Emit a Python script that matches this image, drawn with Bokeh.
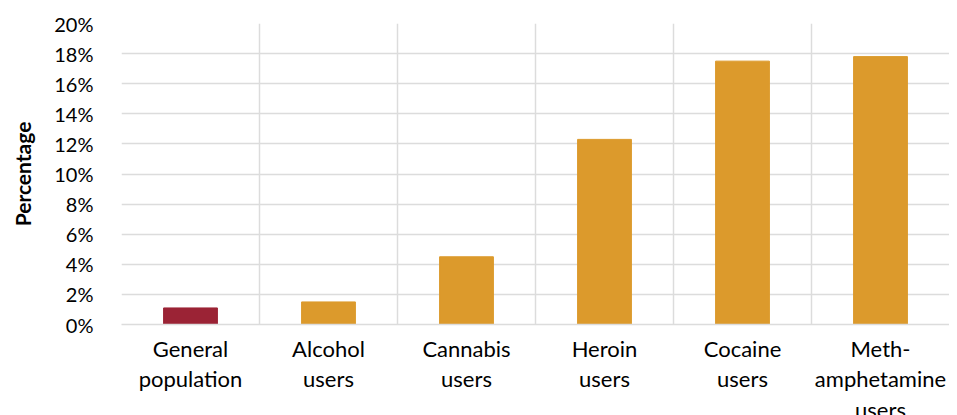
from bokeh.plotting import figure
from bokeh.models import Range1d, FixedTicker, NumeralTickFormatter, ColumnDataSource
from bokeh.embed import file_html
from bokeh.resources import INLINE

categories = ["General\npopulation", "Alcohol\nusers", "Cannabis\nusers",
              "Heroin\nusers", "Cocaine\nusers", "Meth-\namphetamine\nusers"]
values = [0.011, 0.015, 0.045, 0.123, 0.175, 0.178]
colors = ["#9B2335", "#DC9A2C", "#DC9A2C", "#DC9A2C", "#DC9A2C", "#DC9A2C"]
y_ticks = [0.0, 0.02, 0.04, 0.06, 0.08, 0.10, 0.12, 0.14, 0.16, 0.18, 0.20]

xs = [i + 0.5 for i in range(len(categories))]
src = ColumnDataSource(dict(x=xs, top=values, color=colors))

p = figure(width=949, height=407, output_backend="svg", toolbar_location=None,
           x_range=Range1d(0, len(categories)), y_range=Range1d(0, 0.20),
           min_border_left=121, min_border_right=0, min_border_top=23,
           min_border_bottom=83, frame_width=828, frame_height=301)
p.outline_line_color = None
p.background_fill_color = "white"
p.border_fill_color = "white"

p.vbar(x="x", top="top", width=0.39, bottom=0, color="color", source=src)

FONT = "Lato"
# x axis
p.xaxis.ticker = FixedTicker(ticks=xs)
p.xaxis.major_label_overrides = {x: c for x, c in zip(xs, categories)}
p.xaxis.major_tick_line_color = None
p.xaxis.minor_tick_line_color = None
p.xaxis.axis_line_color = "#dcdcdc"
p.xaxis.axis_line_width = 1.5
p.xaxis.major_label_text_font = FONT
p.xaxis.major_label_text_font_size = "22px"
p.xaxis.major_label_text_color = "#000000"
p.xaxis.major_label_text_line_height = 1.14
p.xaxis.major_label_standoff = 4
p.xgrid.ticker = FixedTicker(ticks=list(range(len(categories) + 1)))
p.xgrid.grid_line_color = "#dcdcdc"
p.xgrid.grid_line_width = 1.5

# y axis
p.yaxis.ticker = FixedTicker(ticks=y_ticks)
p.yaxis.formatter = NumeralTickFormatter(format="0%")
p.yaxis.major_tick_line_color = None
p.yaxis.minor_tick_line_color = None
p.yaxis.axis_line_color = None
p.yaxis.major_label_text_font = FONT
p.yaxis.major_label_text_font_size = "20px"
p.yaxis.major_label_text_color = "#000000"
p.yaxis.major_label_standoff = 22
p.yaxis.axis_label = "Percentage"
p.yaxis.axis_label_text_font = FONT
p.yaxis.axis_label_text_font_style = "bold"
p.yaxis.axis_label_text_font_size = "21px"
p.yaxis.axis_label_text_color = "#000000"
p.yaxis.axis_label_standoff = 16
p.ygrid.grid_line_color = "#dcdcdc"
p.ygrid.grid_line_width = 1.5

open("out.html", "w").write(file_html(p, INLINE))
